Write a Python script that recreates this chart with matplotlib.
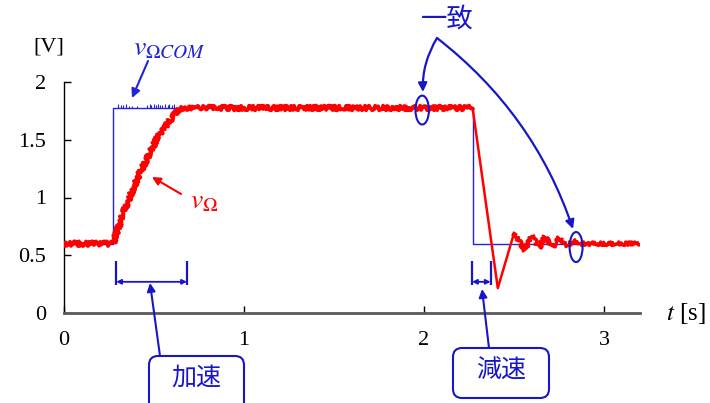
import matplotlib
matplotlib.use("Agg")
import matplotlib.pyplot as plt
import matplotlib.transforms as mtransforms
from matplotlib.patches import FancyBboxPatch, Ellipse

W, H = 710, 403

# measured speed v_Omega [V] versus time [s]
t_speed = [0.0, 0.272, 0.33, 0.42, 0.52, 0.59, 0.645, 2.27, 2.41, 2.50, 2.56,
           2.60, 2.64, 2.67, 2.72, 2.75, 2.80, 2.83, 2.87, 3.2]
v_speed = [0.60, 0.60, 0.87, 1.21, 1.52, 1.67, 1.775, 1.775, 0.215, 0.69, 0.545,
           0.67, 0.56, 0.66, 0.57, 0.65, 0.58, 0.63, 0.60, 0.60]

# speed command v_OmegaCOM [V]
t_cmd = [0.0, 0.272, 0.272, 2.27, 2.27, 3.2]
v_cmd = [0.60, 0.60, 1.775, 1.775, 0.60, 0.60]
# small quantisation spikes on the command plateau
spike_t = [0.30, 0.315, 0.325, 0.345, 0.36, 0.375, 0.405, 0.46, 0.475, 0.485,
           0.50, 0.51, 0.52, 0.535, 0.545, 0.56, 0.575, 0.585, 0.60, 0.61]
spike_h = [0.035, 0.03, 0.025, 0.035, 0.02, 0.02, 0.015, 0.03, 0.035, 0.03,
           0.035, 0.025, 0.035, 0.03, 0.025, 0.035, 0.03, 0.035, 0.03, 0.035]

# acceleration / deceleration intervals [s]
accel_span = (0.29, 0.683)
decel_span = (2.267, 2.37)

x_ticks = [0, 1, 2, 3]
y_ticks = [0, 0.5, 1, 1.5, 2]
y_ticklabels = ["0", "0.5", "1", "1.5", "2"]

RED = "#ff0000"
BLUE = "#2323d8"
ANN = "#1717c8"

plt.rcParams["mathtext.fontset"] = "stix"
serif = ["Liberation Serif", "DejaVu Serif"]
cjk = ["Noto Sans CJK JP", "DejaVu Sans"]

fig = plt.figure(figsize=(W / 100, H / 100), dpi=100)
ax = fig.add_axes([64 / W, 1 - 313 / H, 576 / W, 231 / H])
ax.set_xlim(0, 3.2)
ax.set_ylim(0, 2)

# image-pixel transform (origin top-left)
pix = mtransforms.Affine2D().scale(1 / 100, -1 / 100).translate(0, H / 100) + fig.dpi_scale_trans

ax.plot(t_cmd, v_cmd, color=BLUE, lw=1.0, zorder=2)
ax.vlines(spike_t, 1.775, [1.775 + h for h in spike_h], color=BLUE, lw=0.8, zorder=2)

# speed trace: noisy while steady, clean during the fast braking transient
i_brake, i_ring = t_speed.index(2.27), t_speed.index(2.50)
steady, = ax.plot(t_speed[:i_brake + 1], v_speed[:i_brake + 1], color=RED, lw=2.7,
                  zorder=3, solid_joinstyle="round")
steady.set_sketch_params(scale=2.4, length=1.3, randomness=3.0)
ax.plot(t_speed[i_brake:i_ring + 1], v_speed[i_brake:i_ring + 1], color=RED, lw=1.8,
        zorder=3, solid_joinstyle="round")
ring, = ax.plot(t_speed[i_ring:], v_speed[i_ring:], color=RED, lw=2.2,
                zorder=3, solid_joinstyle="round")
ring.set_sketch_params(scale=2.0, length=1.3, randomness=3.0)

for s in ["top", "right"]:
    ax.spines[s].set_visible(False)
ax.spines["left"].set_color("black")
ax.spines["left"].set_linewidth(1.0)
ax.spines["bottom"].set_color("#5a5a5a")
ax.spines["bottom"].set_linewidth(2.0)

ax.set_xticks(x_ticks)
ax.set_xticklabels([str(v) for v in x_ticks])
ax.set_yticks(y_ticks)
ax.set_yticklabels(y_ticklabels)
ax.tick_params(direction="in", length=5, width=1.0, colors="black", labelsize=16)
ax.tick_params(axis="x", pad=13)
ax.tick_params(axis="y", pad=13)
for lab in ax.get_xticklabels() + ax.get_yticklabels():
    lab.set_family(serif)

# axis units
fig.text(49, 47, "[V]", transform=pix, ha="center", va="center",
         fontsize=16, family=serif)
fig.text(686, 314, "$t$ [s]", transform=pix, ha="center", va="center",
         fontsize=18, family=serif)

# signal labels
fig.text(169, 47, r"$v_{\Omega COM}$", transform=pix, ha="center", va="center",
         fontsize=20, color=BLUE)
ax.annotate("", xy=(132, 98), xycoords=pix, xytext=(148, 61), textcoords=pix,
            arrowprops=dict(arrowstyle="-|>", color=BLUE, lw=1.5, mutation_scale=13,
                            shrinkA=0, shrinkB=0))
fig.text(204, 200, r"$v_{\Omega}$", transform=pix, ha="center", va="center",
         fontsize=20, color=RED)
ax.annotate("", xy=(152, 177), xycoords=pix, xytext=(181, 194), textcoords=pix,
            arrowprops=dict(arrowstyle="-|>", color=RED, lw=1.5, mutation_scale=12,
                            shrinkA=0, shrinkB=0))

# acceleration / deceleration brackets
for (a, b), yc in [(accel_span, 0.27), (decel_span, 0.27)]:
    ax.vlines([a, b], 0.24, 0.45, color=ANN, lw=1.6, clip_on=False, zorder=4)
    ax.annotate("", xy=(a, yc), xytext=(b, yc),
                arrowprops=dict(arrowstyle="<|-|>", color=ANN, lw=1.3,
                                mutation_scale=7, shrinkA=0, shrinkB=0))

# callout boxes
for (x0, y0, w, h), label, (tx, ty), (ax0, ay0), (ax1, ay1) in [
        ((149, 356, 95, 62), "加速", (196, 378), (160, 356), (150, 283)),
        ((453, 348, 96, 50), "減速", (501, 371), (489, 348), (482, 289))]:
    box = FancyBboxPatch((x0, y0), w, h, boxstyle="round,pad=0,rounding_size=9",
                         transform=pix, fc="white", ec=ANN, lw=1.5, clip_on=False)
    fig.add_artist(box)
    fig.text(tx, ty, label, transform=pix, ha="center", va="center",
             fontsize=18, color=ANN, family=cjk)
    ax.annotate("", xy=(ax1, ay1), xycoords=pix, xytext=(ax0, ay0), textcoords=pix,
                arrowprops=dict(arrowstyle="-|>", color=ANN, lw=1.5, mutation_scale=12,
                                shrinkA=0, shrinkB=0))

# agreement markers
fig.text(447, 19, "一致", transform=pix, ha="center", va="center",
         fontsize=19, color=ANN, family=cjk)
ax.add_patch(Ellipse((1.99, 1.757), 0.075, 0.25, fill=False, ec=ANN, lw=1.5, zorder=5))
ax.add_patch(Ellipse((2.845, 0.571), 0.072, 0.26, fill=False, ec=ANN, lw=1.5, zorder=5))
ax.annotate("", xy=(423, 92), xycoords=pix, xytext=(437, 38), textcoords=pix,
            arrowprops=dict(arrowstyle="-|>", color=ANN, lw=1.6, mutation_scale=13,
                            shrinkA=0, shrinkB=0, connectionstyle="arc3,rad=0.15"))
ax.annotate("", xy=(573, 229), xycoords=pix, xytext=(437, 38), textcoords=pix,
            arrowprops=dict(arrowstyle="-|>", color=ANN, lw=1.6, mutation_scale=13,
                            shrinkA=0, shrinkB=0, connectionstyle="arc3,rad=-0.15"))

fig.savefig("out.png", dpi=100)
